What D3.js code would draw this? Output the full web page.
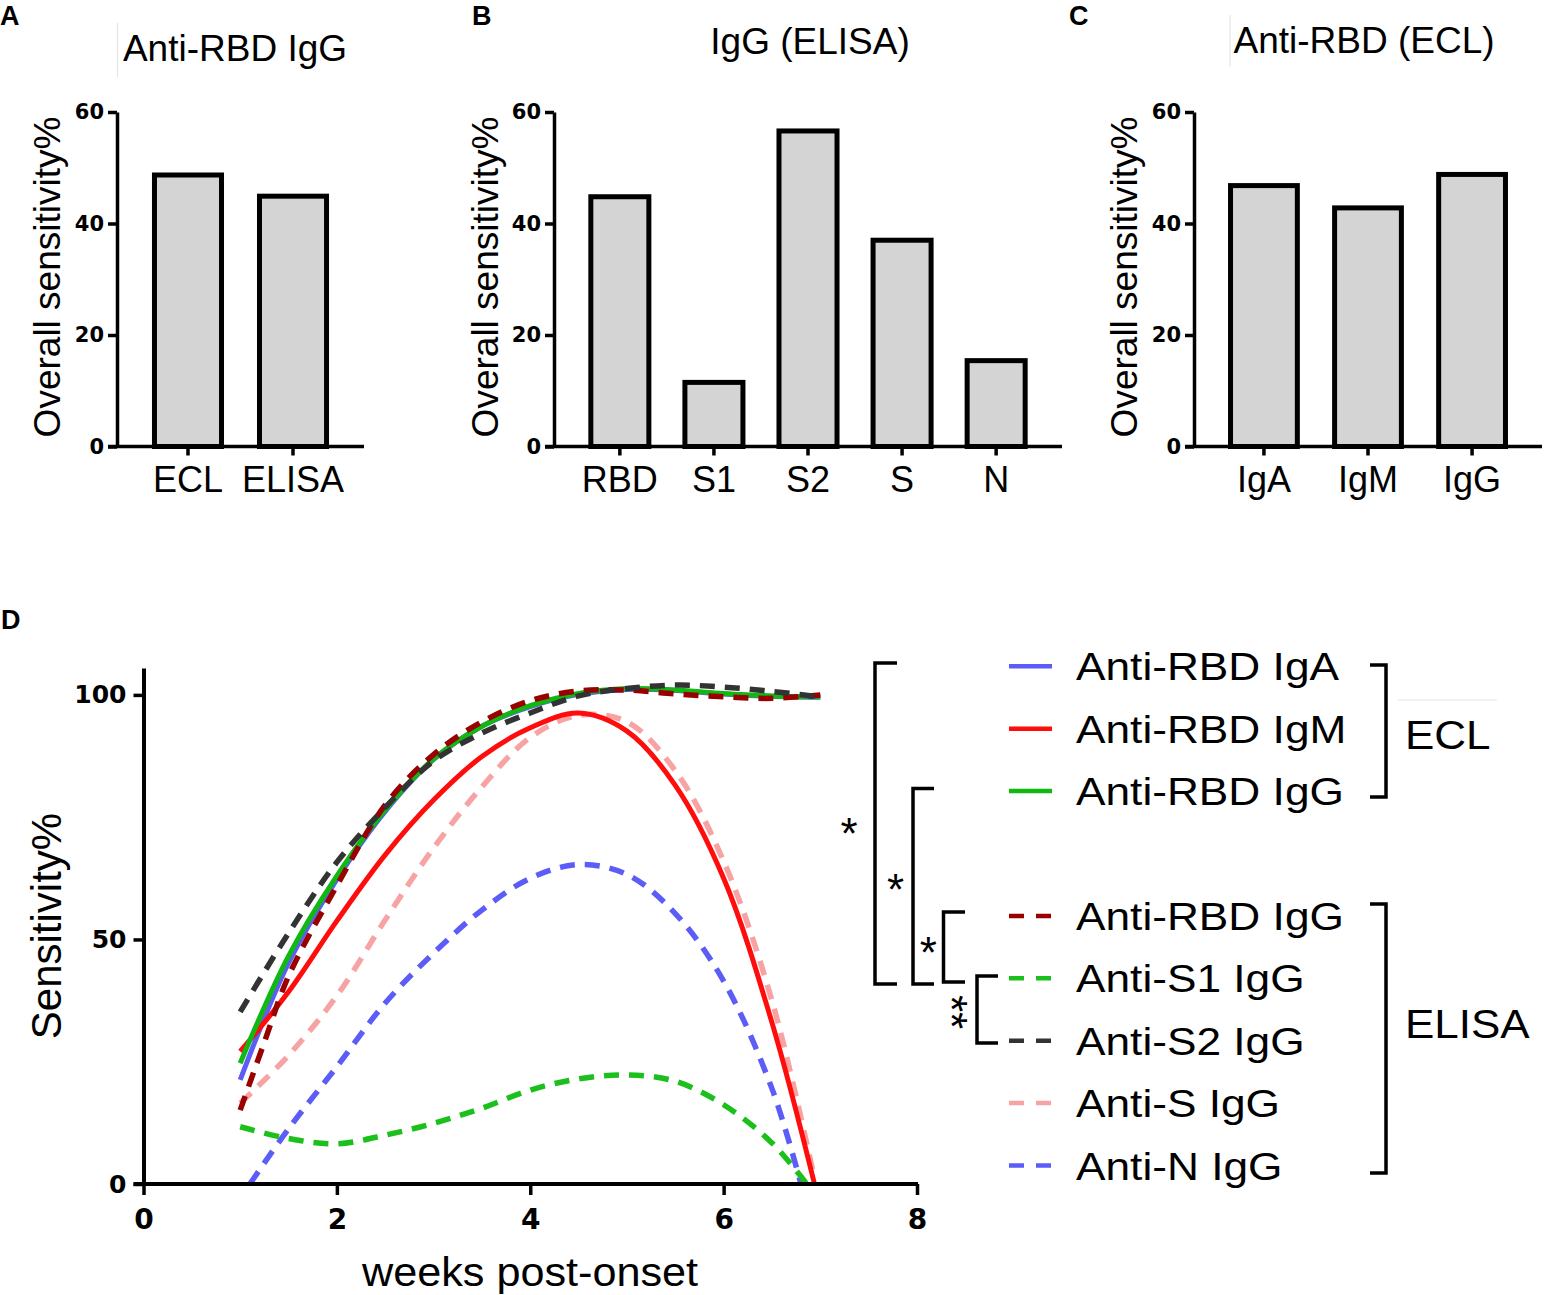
<!DOCTYPE html>
<html>
<head>
<meta charset="utf-8">
<script src="https://cdn.jsdelivr.net/npm/d3@7"></script>
<style>
  body { margin: 0; background: #fff; }
  svg { display: block; }
</style>
</head>
<body>
<div id="chart"></div>
<script>
// ---- data ----
var catsA = ['ECL', 'ELISA'];
var valsA = [48.7, 44.9];
var catsB = ['RBD', 'S1', 'S2', 'S', 'N'];
var valsB = [44.8, 11.5, 56.6, 37.0, 15.4];
var catsC = ['IgA', 'IgM', 'IgG'];
var valsC = [46.8, 42.8, 48.8];
var barTicks = [0, 20, 40, 60];

// panel D: [weeks, sensitivity %]
var igaECL = [[1,21.3],[1.5,45.2],[2,62.3],[2.5,76.2],[3,86.8],[3.5,93.6],[4,97.6],[4.5,100.1],[5,101.1],[5.5,100.9],[6,100.2],[6.5,99.7],[7,99.5]];
var igmECL = [[1,27.1],[1.5,39.3],[2,53.8],[2.5,67.3],[3,78.5],[3.5,87.4],[4,93.3],[4.5,96.3],[5,92.6],[5.5,81.5],[6,62.5],[6.5,33],[6.94,0]];
var iggECL = [[1,24.7],[1.5,46.6],[2,63],[2.5,76.5],[3,86.9],[3.5,93.6],[4,97.8],[4.5,100.3],[5,101.3],[5.5,101],[6,100.3],[6.5,99.8],[7,99.6]];
var rbdELISA = [[1,15.1],[1.25,29],[1.5,42.5],[2,61],[2.5,77.5],[3,87.8],[3.5,94.5],[4,98.8],[4.5,100.8],[5,101],[5.5,100.2],[6,99.6],[6.5,99.3],[7,100]];
var s1ELISA = [[1,11.7],[1.5,9.3],[2,8.2],[2.5,10],[3,12.4],[3.5,15.5],[4,19.2],[4.5,21.5],[5,22.3],[5.5,21],[6,16.2],[6.5,8.4],[6.86,0]];
var s2ELISA = [[1,35.2],[1.5,51.3],[2,65.8],[2.5,77],[3,86.5],[3.5,92.2],[4,96.3],[4.5,99.8],[5,101.3],[5.5,102],[6,101.6],[6.5,100.7],[7,99.6]];
var sELISA = [[1,16.5],[1.5,26.3],[2,38.5],[2.5,54],[3,68.7],[3.5,81.2],[4,91.3],[4.5,95.8],[5,94.5],[5.5,84.5],[6,66],[6.5,37.5],[6.93,2]];
var nELISA = [[1.1,0],[1.5,11.3],[2,24],[2.5,37],[3,47.2],[3.5,56],[4,62.5],[4.5,65.3],[5,63.3],[5.5,55.3],[6,41.5],[6.5,19.5],[6.8,0]];
var weekTicks = [0, 2, 4, 6, 8];
var sensTicks = [0, 50, 100];

var seriesNames = ['Anti-RBD IgA', 'Anti-RBD IgM', 'Anti-RBD IgG', 'Anti-RBD IgG', 'Anti-S1 IgG', 'Anti-S2 IgG', 'Anti-S IgG', 'Anti-N IgG'];
var seriesData = [igaECL, igmECL, iggECL, rbdELISA, s1ELISA, s2ELISA, sELISA, nELISA];
var seriesColors = ['#5c5cf6', '#ff0d0d', '#12b812', '#990000', '#1cc01c', '#333333', '#f8a3a3', '#5c5cf6'];
var seriesDashed = [false, false, false, true, true, true, true, true];
var legendSlot = [0, 1, 2, 4, 5, 6, 7, 8];
var drawOrder = [7, 4, 6, 0, 1, 2, 3, 5];

var W = 1544, H = 1295;
var svg = d3.select('#chart').append('svg')
  .attr('width', W).attr('height', H)
  .attr('font-family', '"Liberation Sans", Arial, sans-serif');

function txt(g, x, y, s, size, opts) {
  opts = opts || {};
  var sx = opts.sx || 1;
  var tr = 'translate(' + x + ',' + y + ')' + (opts.rotate ? ' rotate(' + opts.rotate + ')' : '') + ' scale(' + sx + ',1)';
  return g.append('text')
    .attr('transform', tr)
    .attr('text-anchor', opts.anchor || 'start')
    .attr('font-size', size)
    .attr('font-weight', opts.bold ? 'bold' : 'normal')
    .attr('fill', '#000')
    .text(s);
}

function faint(x1, y1, x2, y2) {
  svg.append('line').attr('x1', x1).attr('y1', y1).attr('x2', x2).attr('y2', y2)
    .attr('stroke', '#e6e6e6').attr('stroke-width', 1.2);
}

// ---- bar panels A, B, C ----
function drawBars(cfg) {
  var g = svg.append('g');
  var y = d3.scaleLinear().domain([0, 60]).range([446.5, 112]);
  var x = d3.scaleBand().domain(cfg.cats).range([cfg.x0, cfg.x1])
    .paddingInner(cfg.pi).paddingOuter(cfg.po);

  g.selectAll('rect.bar').data(cfg.vals).enter().append('rect')
    .attr('class', 'bar')
    .attr('x', function (d, i) { return x(cfg.cats[i]) + 2.5; })
    .attr('width', x.bandwidth() - 5)
    .attr('y', function (d) { return y(d); })
    .attr('height', function (d) { return y(0) - y(d); })
    .attr('fill', '#d4d4d4')
    .attr('stroke', '#000')
    .attr('stroke-width', 5);

  var ya = g.append('g').attr('transform', 'translate(' + cfg.x0 + ',0)')
    .call(d3.axisLeft(y).tickValues(barTicks).tickSize(9).tickPadding(4).tickSizeOuter(0));
  ya.select('.domain').attr('stroke-width', 3.5);
  ya.selectAll('.tick line').attr('stroke-width', 3.5);
  ya.selectAll('.tick text').attr('font-family', '"DejaVu Sans", sans-serif')
    .attr('font-weight', 'bold').attr('font-size', 21).attr('fill', '#000');

  var xa = g.append('g').attr('transform', 'translate(0,446.5)')
    .call(d3.axisBottom(x).tickSize(9).tickPadding(11).tickSizeOuter(0));
  xa.select('.domain').remove();
  xa.selectAll('.tick line').attr('stroke-width', 3.5);
  xa.selectAll('.tick text').attr('font-size', 36).attr('fill', '#000')
    .attr('font-family', '"Liberation Sans", Arial, sans-serif');
  g.append('line').attr('x1', cfg.x0 - 9).attr('x2', cfg.x1)
    .attr('y1', 446.5).attr('y2', 446.5).attr('stroke', '#000').attr('stroke-width', 3.5);

  txt(g, cfg.ylabX, 277, 'Overall sensitivity%', 37, { anchor: 'middle', rotate: -90 });
  txt(g, cfg.titleX, cfg.titleY, cfg.title, 37, { anchor: 'middle' });
  txt(g, cfg.letterX, 25, cfg.letter, 27, { bold: true });
}

drawBars({ cats: catsA, vals: valsA, x0: 117, x1: 364, pi: 0.314, po: 0.333,
  ylabX: 59.5, title: 'Anti-RBD IgG', titleX: 235, titleY: 61, letter: 'A', letterX: 0 });
drawBars({ cats: catsB, vals: valsB, x0: 554, x1: 1062, pi: 0.33, po: 0.365,
  ylabX: 498, title: 'IgG (ELISA)', titleX: 810, titleY: 54, letter: 'B', letterX: 472 });
drawBars({ cats: catsC, vals: valsC, x0: 1194, x1: 1542, pi: 0.31, po: 0.327,
  ylabX: 1136.5, title: 'Anti-RBD (ECL)', titleX: 1364, titleY: 53, letter: 'C', letterX: 1069 });

faint(117.5, 23, 117.5, 77);
faint(1230, 15, 1230, 67);

// ---- panel D ----
var gd = svg.append('g');
var xD = d3.scaleLinear().domain([0, 8]).range([143.5, 917]);
var yD = d3.scaleLinear().domain([0, 105.5]).range([1184, 668]);

var line = d3.line()
  .x(function (d) { return xD(d[0]); })
  .y(function (d) { return yD(d[1]); })
  .curve(d3.curveCatmullRom.alpha(0.5));

drawOrder.forEach(function (i) {
  gd.append('path')
    .attr('d', line(seriesData[i]))
    .attr('fill', 'none')
    .attr('stroke', seriesColors[i])
    .attr('stroke-width', seriesDashed[i] ? 5.5 : 5)
    .attr('stroke-dasharray', seriesDashed[i] ? '15,10' : null);
});

var yaD = gd.append('g').attr('transform', 'translate(143.5,0)')
  .call(d3.axisLeft(yD).tickValues(sensTicks).tickSize(10).tickPadding(7).tickSizeOuter(0));
yaD.select('.domain').attr('stroke-width', 4);
yaD.selectAll('.tick line').attr('stroke-width', 3.5);
yaD.selectAll('.tick text').attr('font-family', '"DejaVu Sans", sans-serif')
  .attr('font-weight', 'bold').attr('font-size', 25).attr('fill', '#000');

var xaD = gd.append('g').attr('transform', 'translate(0,1184)')
  .call(d3.axisBottom(xD).tickValues(weekTicks).tickSize(11).tickPadding(14).tickSizeOuter(0));
xaD.select('.domain').remove();
xaD.selectAll('.tick line').attr('stroke-width', 3.5);
xaD.selectAll('.tick text').attr('font-family', '"DejaVu Sans", sans-serif')
  .attr('font-weight', 'bold').attr('font-size', 28).attr('fill', '#000');
gd.append('line').attr('x1', 133.5).attr('x2', 918).attr('y1', 1184).attr('y2', 1184)
  .attr('stroke', '#000').attr('stroke-width', 4);

txt(gd, 61, 926, 'Sensitivity%', 42, { anchor: 'middle', rotate: -90 });
txt(gd, 530, 1286, 'weeks post-onset', 40, { anchor: 'middle', sx: 1.08 });
txt(gd, 1, 629, 'D', 27, { bold: true });

// legend
var legY0 = 666.3, legStep = 62.4;
seriesNames.forEach(function (name, i) {
  var yy = legY0 + legendSlot[i] * legStep;
  gd.append('line').attr('x1', 1009).attr('x2', 1052).attr('y1', yy).attr('y2', yy)
    .attr('stroke', seriesColors[i]).attr('stroke-width', 4.5)
    .attr('stroke-dasharray', seriesDashed[i] ? '15,12' : null);
  txt(gd, 1076, yy + 14, name, 39.5, { sx: 1.12 });
});

function bracket(x, y1, y2, armX) {
  gd.append('path')
    .attr('d', 'M' + armX + ',' + y1 + 'H' + x + 'V' + y2 + 'H' + armX)
    .attr('fill', 'none').attr('stroke', '#000').attr('stroke-width', 3.5);
}
bracket(1386, 665, 797, 1370);
bracket(1386, 904, 1173, 1370);
txt(gd, 1405, 749, 'ECL', 40, { sx: 1.1 });
txt(gd, 1405, 1038, 'ELISA', 40, { sx: 1.1 });
faint(1398, 700, 1497, 700);

// significance brackets
bracket(875, 663, 984, 897);
bracket(913, 788.5, 984, 934);
bracket(943.5, 912, 982, 965);
bracket(977, 976, 1043, 998);
var starSize = 44;
[[849, 824], [895.6, 880], [928.4, 942.6]].forEach(function (p) {
  txt(gd, p[0], p[1] + 0.57 * starSize, '*', starSize, { anchor: 'middle' });
});
// the double star is set sideways, one above the other
txt(gd, 961 - 0.57 * starSize, 1012, '**', starSize, { anchor: 'middle', rotate: 90 });
</script>
</body>
</html>
